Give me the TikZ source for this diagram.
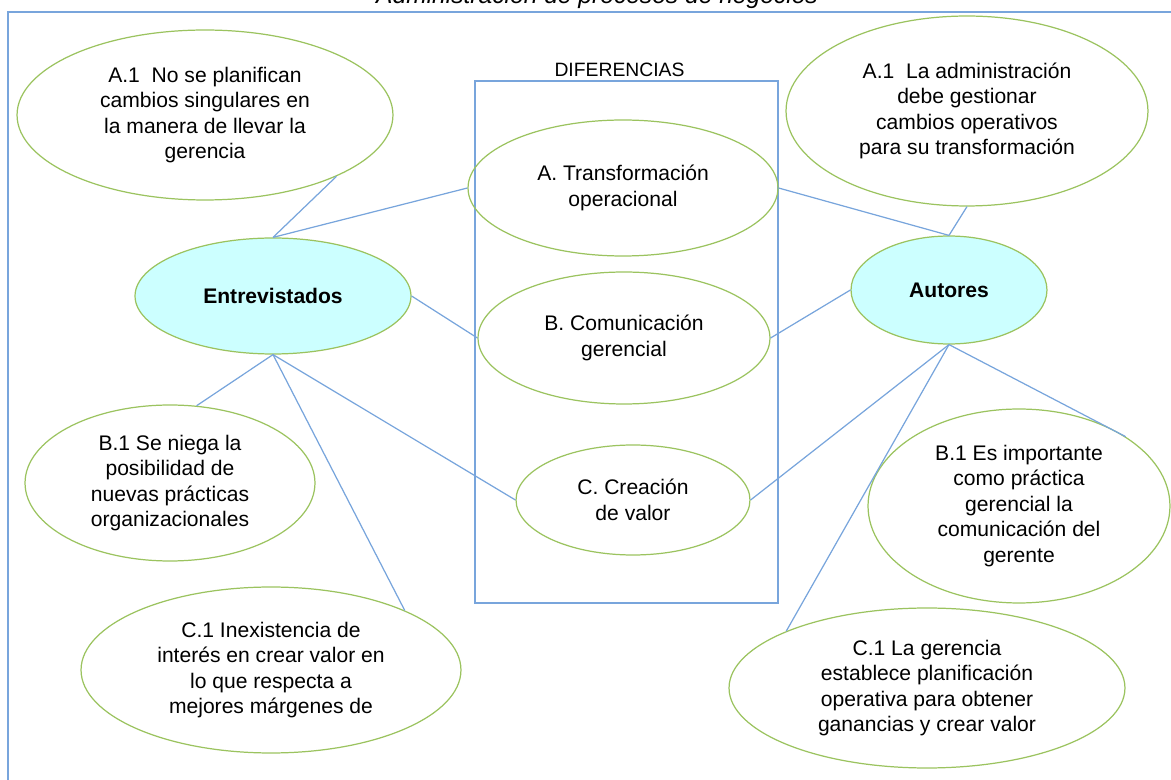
\documentclass[tikz,border=0pt]{standalone}
\usepackage{fontspec}
\setmainfont{Liberation Sans}
\usetikzlibrary{positioning,shapes.geometric}

\definecolor{ovalgreen}{RGB}{155,195,95}
\definecolor{linkblue}{RGB}{120,165,220}
\definecolor{groupfill}{RGB}{204,255,255}

\begin{document}
\begin{tikzpicture}[
    x = 0.02cm, y = -0.02cm, % one unit = one pixel of the sketch
    font = \fontsize{12}{14.5}\selectfont,
    link/.style = {draw = linkblue, line width = 0.7pt}, % connector style
    ]

    \tikzset{idea/.style = {
    ellipse,
    draw = ovalgreen,
    line width = 0.7pt,
    align = center,
    inner sep = 0pt
    }}
    \tikzset{group/.style = {idea, fill = groupfill, font = \fontsize{12}{14.5}\selectfont\bfseries}}

    \useasboundingbox (0,0) rectangle (1171,780);
    \clip (0,0) rectangle (1171,780);

    % frame and title
    \draw[link] (8,12) rectangle (1200,820);
    \node[anchor = base, font = \fontsize{14}{16}\selectfont\itshape] (title) at (597,4) {Administración de procesos de negocios};

    % differences box
    \node[draw = linkblue, line width = 0.7pt, minimum width = 6.06cm, minimum height = 10.44cm] (diffbox) at (626.5,342) {};
    \node[above = 1pt of diffbox, inner sep = 1pt, xshift = -0.14cm, font = \fontsize{11}{13}\selectfont] (difftitle) {DIFERENCIAS};

    \node[idea, minimum width = 6.2cm, minimum height = 2.72cm] (difA) at (623,188) {A. Transformación\\operacional};
    \node[idea, minimum width = 5.84cm, minimum height = 2.64cm] (difB) at (624,338) {B. Comunicación\\gerencial};
    \node[idea, minimum width = 4.68cm, minimum height = 2.2cm] (difC) at (633,500) {C. Creación\\de valor};

    % interviewed side
    \node[group, minimum width = 5.52cm, minimum height = 2.32cm] (entrev) at (273,296) {Entrevistados};
    \node[idea, minimum width = 7.52cm, minimum height = 3.4cm] (intA) at (205,115) {A.1 \ No se planifican\\cambios singulares en\\la manera de llevar la\\gerencia};
    \node[idea, minimum width = 5.8cm, minimum height = 3.12cm] (intB) at (170,483) {B.1 Se niega la\\posibilidad de\\nuevas prácticas\\organizacionales};
    \node[idea, minimum width = 7.6cm, minimum height = 3.32cm] (intC) at (271,670) {C.1 Inexistencia de\\interés en crear valor en\\lo que respecta a\\mejores márgenes de};

    % authors side
    \node[group, minimum width = 3.92cm, minimum height = 2.16cm] (autores) at (949,290) {Autores};
    \node[idea, minimum width = 7.24cm, minimum height = 3.8cm] (autA) at (967,111) {A.1 \ La administración\\debe gestionar\\cambios operativos\\para su transformación};
    \node[idea, minimum width = 6.04cm, minimum height = 3.88cm] (autB) at (1019,506) {B.1 Es importante\\como práctica\\gerencial la\\comunicación del\\gerente};
    \node[idea, minimum width = 7.92cm, minimum height = 3.2cm] (autC) at (927,688) {C.1 La gerencia\\establece planificación\\operativa para obtener\\ganancias y crear valor};

    \path[link] (entrev.north) edge (intA.-25)
    (entrev.north) edge (difA.west)
    (entrev.east) edge (difB.west)
    (entrev.south) edge (intB.71)
    (entrev.south) edge (intC.24)
    (entrev.south) edge (difC.west);

    \path[link] (autores.north) edge (autA.south)
    (autores.north) edge (difA.east)
    (autores.west) edge (difB.east)
    (autores.south) edge (difC.east)
    (autores.south) edge (autC.158)
    (autores.south) edge (autB.33);
\end{tikzpicture}
\end{document}
